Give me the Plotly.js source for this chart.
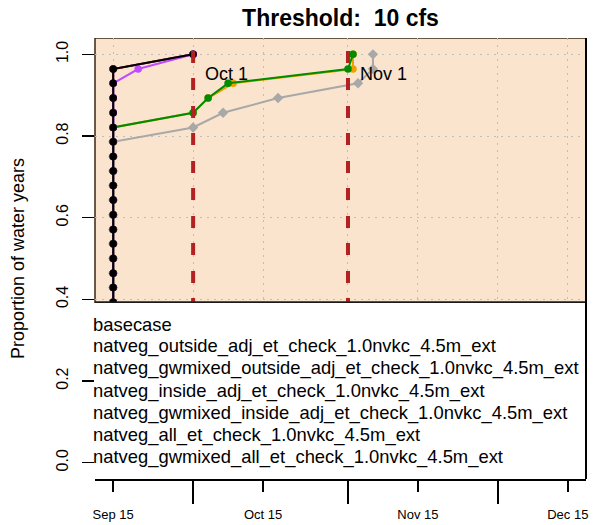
<!DOCTYPE html>
<html><head><meta charset="utf-8">
<script src="https://cdn.plot.ly/plotly-3.0.1.min.js"></script>
<style>html,body{margin:0;padding:0;background:#fff;}#chart{width:593px;height:525px;}</style>
</head><body><div id="chart"></div>
<script>
// ---- data ----
const S = '2001-09-15';
// cumulative proportion of the 28 water years (one value per year, sorted)
const proportions = [0.036, 0.071, 0.107, 0.143, 0.179, 0.214, 0.250, 0.286, 0.321, 0.357,
  0.393, 0.429, 0.464, 0.500, 0.536, 0.571, 0.607, 0.643, 0.679, 0.714,
  0.750, 0.786, 0.821, 0.857, 0.893, 0.929, 0.964, 1.000];

const seriesNames = [
  'basecase',
  'natveg_outside_adj_et_check_1.0nvkc_4.5m_ext',
  'natveg_gwmixed_outside_adj_et_check_1.0nvkc_4.5m_ext',
  'natveg_inside_adj_et_check_1.0nvkc_4.5m_ext',
  'natveg_gwmixed_inside_adj_et_check_1.0nvkc_4.5m_ext',
  'natveg_all_et_check_1.0nvkc_4.5m_ext',
  'natveg_gwmixed_all_et_check_1.0nvkc_4.5m_ext'
];
const seriesColors = ['#000000', '#C24BFF', '#A8A8A8', '#2F5FE0', '#EDA000', '#D83030', '#008C00'];
const seriesSymbols = ['circle', 'circle', 'diamond', 'circle', 'circle', 'circle', 'circle'];

const basecaseDates = [S,S,S,S,S,S,S,S,S,S, S,S,S,S,S,S,S,S,S,S, S,S,S,S,S,S,S, '2001-10-01'];
const outsideDates  = [S,S,S,S,S,S,S,S,S,S, S,S,S,S,S,S,S,S,S,S, S,S,S,S,S,S, '2001-09-20', '2001-10-01'];
const gwOutsideDates = [S,S,S,S,S,S,S,S,S,S, S,S,S,S,S,S,S,S,S,S, S,S,
  '2001-10-01', '2001-10-07', '2001-10-18', '2001-11-03', '2001-11-06', '2001-11-06'];
const insideDates   = [S,S,S,S,S,S,S,S,S,S, S,S,S,S,S,S,S,S,S,S, S,S,S,S,S,S,S, '2001-10-01'];
const gwInsideDates = [S,S,S,S,S,S,S,S,S,S, S,S,S,S,S,S,S,S,S,S, S,S,S,
  '2001-10-01', '2001-10-04', '2001-10-09', '2001-11-02', '2001-11-02'];
const allDates      = [S,S,S,S,S,S,S,S,S,S, S,S,S,S,S,S,S,S,S,S, S,S,S,S,S,S,S, '2001-10-01'];
const gwAllDates    = [S,S,S,S,S,S,S,S,S,S, S,S,S,S,S,S,S,S,S,S, S,S,S,
  '2001-10-01', '2001-10-04', '2001-10-08', '2001-11-01', '2001-11-02'];

const seriesDates = [basecaseDates, outsideDates, gwOutsideDates, insideDates, gwInsideDates, allDates, gwAllDates];
const drawOrder = [3, 5, 2, 4, 6, 1, 0];

const refDates = ['2001-10-01', '2001-11-01'];
const refLabels = ['Oct 1', 'Nov 1'];
const tickDates = ['2001-09-15', '2001-10-15', '2001-11-15', '2001-12-15'];
const tickLabels = ['Sep 15', 'Oct 15', 'Nov 15', 'Dec 15'];
const monthStarts = ['2001-09-01', '2001-10-01', '2001-11-01', '2001-12-01'];
const yTicks = [0, 0.2, 0.4, 0.6, 0.8, 1.0];

// ---- layout constants ----
const F = 'Liberation Sans, Arial, Helvetica, sans-serif';
const xRange = ['2001-09-11 08:38', '2001-12-18 15:22'];
const yRange = [-0.04, 1.04];
const legendTop = 0.3926;
const gridCol = '#BEBEBE';
const gridDash = '2px,5px';
// dashed reference line pattern, phase-shifted so it starts with a gap at the top
const refDash = '0px,13px,' + Array(17).fill('12px,15px,12px,16px').join(',');

const traces = drawOrder.map(i => ({
  type: 'scatter', mode: 'lines+markers', name: seriesNames[i],
  x: seriesDates[i], y: proportions,
  line: {color: seriesColors[i], width: 2},
  marker: {color: seriesColors[i], size: seriesSymbols[i] === 'diamond' ? 8 : 7.5, symbol: seriesSymbols[i]},
  hoverinfo: 'skip'
}));

const shapes = [
  {type: 'rect', layer: 'below', xref: 'x domain', x0: 0, x1: 1, yref: 'y', y0: legendTop, y1: yRange[1],
   fillcolor: '#FAE4CE', line: {color: '#3B2712', width: 1.5}}
];
refDates.forEach(d => shapes.push({
  type: 'line', layer: 'above', xref: 'x', x0: d, x1: d, yref: 'y domain', y0: 1, y1: 0,
  line: {color: '#B22222', width: 4, dash: refDash}
}));
shapes.push({type: 'rect', layer: 'above', xref: 'x domain', x0: 0, x1: 1, yref: 'y', y0: yRange[0], y1: legendTop,
  fillcolor: '#ffffff', line: {width: 0}});
shapes.push({type: 'line', layer: 'above', xref: 'x domain', x0: 0, x1: 1, yref: 'y', y0: legendTop, y1: legendTop,
  line: {color: '#1a1a1a', width: 1.5}});
shapes.push({type: 'line', layer: 'above', xref: 'x domain', x0: 1, x1: 1, yref: 'y domain', y0: 0, y1: 1,
  line: {color: '#000', width: 2}});

const annotations = [];
refDates.forEach((d, i) => annotations.push({
  x: d, y: 0.952, xref: 'x', yref: 'y', xanchor: 'left', yanchor: 'middle', xshift: 10,
  text: refLabels[i], showarrow: false, font: {family: F, size: 18, color: '#000'}
}));
const legY0 = (479 - 324) / 441, legStep = 22.2 / 441;
seriesNames.forEach((n, i) => annotations.push({
  x: -0.008, y: legY0 - i * legStep, xref: 'paper', yref: 'paper', xanchor: 'left', yanchor: 'middle',
  text: n, showarrow: false, font: {family: F, size: 18.4, color: '#000'}
}));

const layout = {
  width: 593, height: 525,
  margin: {l: 95, r: 7, t: 38, b: 46, pad: 0},
  paper_bgcolor: '#ffffff', plot_bgcolor: '#ffffff',
  showlegend: false,
  font: {family: F, color: '#000'},
  title: {text: 'Threshold:\u00a0\u00a010 cfs', font: {family: F, size: 23, weight: 'bold', color: '#000'},
    x: 0.5, xref: 'paper', xanchor: 'center', y: 1 - 18 / 525, yref: 'container', yanchor: 'middle'},
  xaxis: {
    type: 'date', range: xRange, tickmode: 'array', tickvals: tickDates, ticktext: tickLabels,
    ticks: 'outside', ticklen: 11, tickwidth: 1.5, tickcolor: '#000', tickfont: {family: F, size: 13, color: '#000'},
    ticklabelstandoff: 12,
    showgrid: true, gridcolor: gridCol, griddash: gridDash, gridwidth: 1,
    showline: true, linecolor: '#000', linewidth: 1.5, zeroline: false,
    minor: {tickmode: 'array', tickvals: monthStarts, ticks: 'outside', ticklen: 23, tickwidth: 1.5, tickcolor: '#000',
      showgrid: true, gridcolor: gridCol, griddash: gridDash, gridwidth: 1}
  },
  yaxis: {
    range: yRange, tickmode: 'array', tickvals: yTicks, tickformat: '.1f',
    ticks: 'outside', ticklen: 12, tickwidth: 1.5, tickcolor: '#000', tickangle: -90,
    tickfont: {family: F, size: 16, color: '#000'}, ticklabelstandoff: 8,
    showgrid: true, gridcolor: gridCol, griddash: gridDash, gridwidth: 1,
    showline: false, zeroline: false,
    title: {text: 'Proportion of water years', font: {family: F, size: 18, color: '#000'}, standoff: 24}
  },
  shapes: shapes,
  annotations: annotations
};

Plotly.newPlot('chart', traces, layout, {staticPlot: true, displayModeBar: false});
</script>
</body></html>
